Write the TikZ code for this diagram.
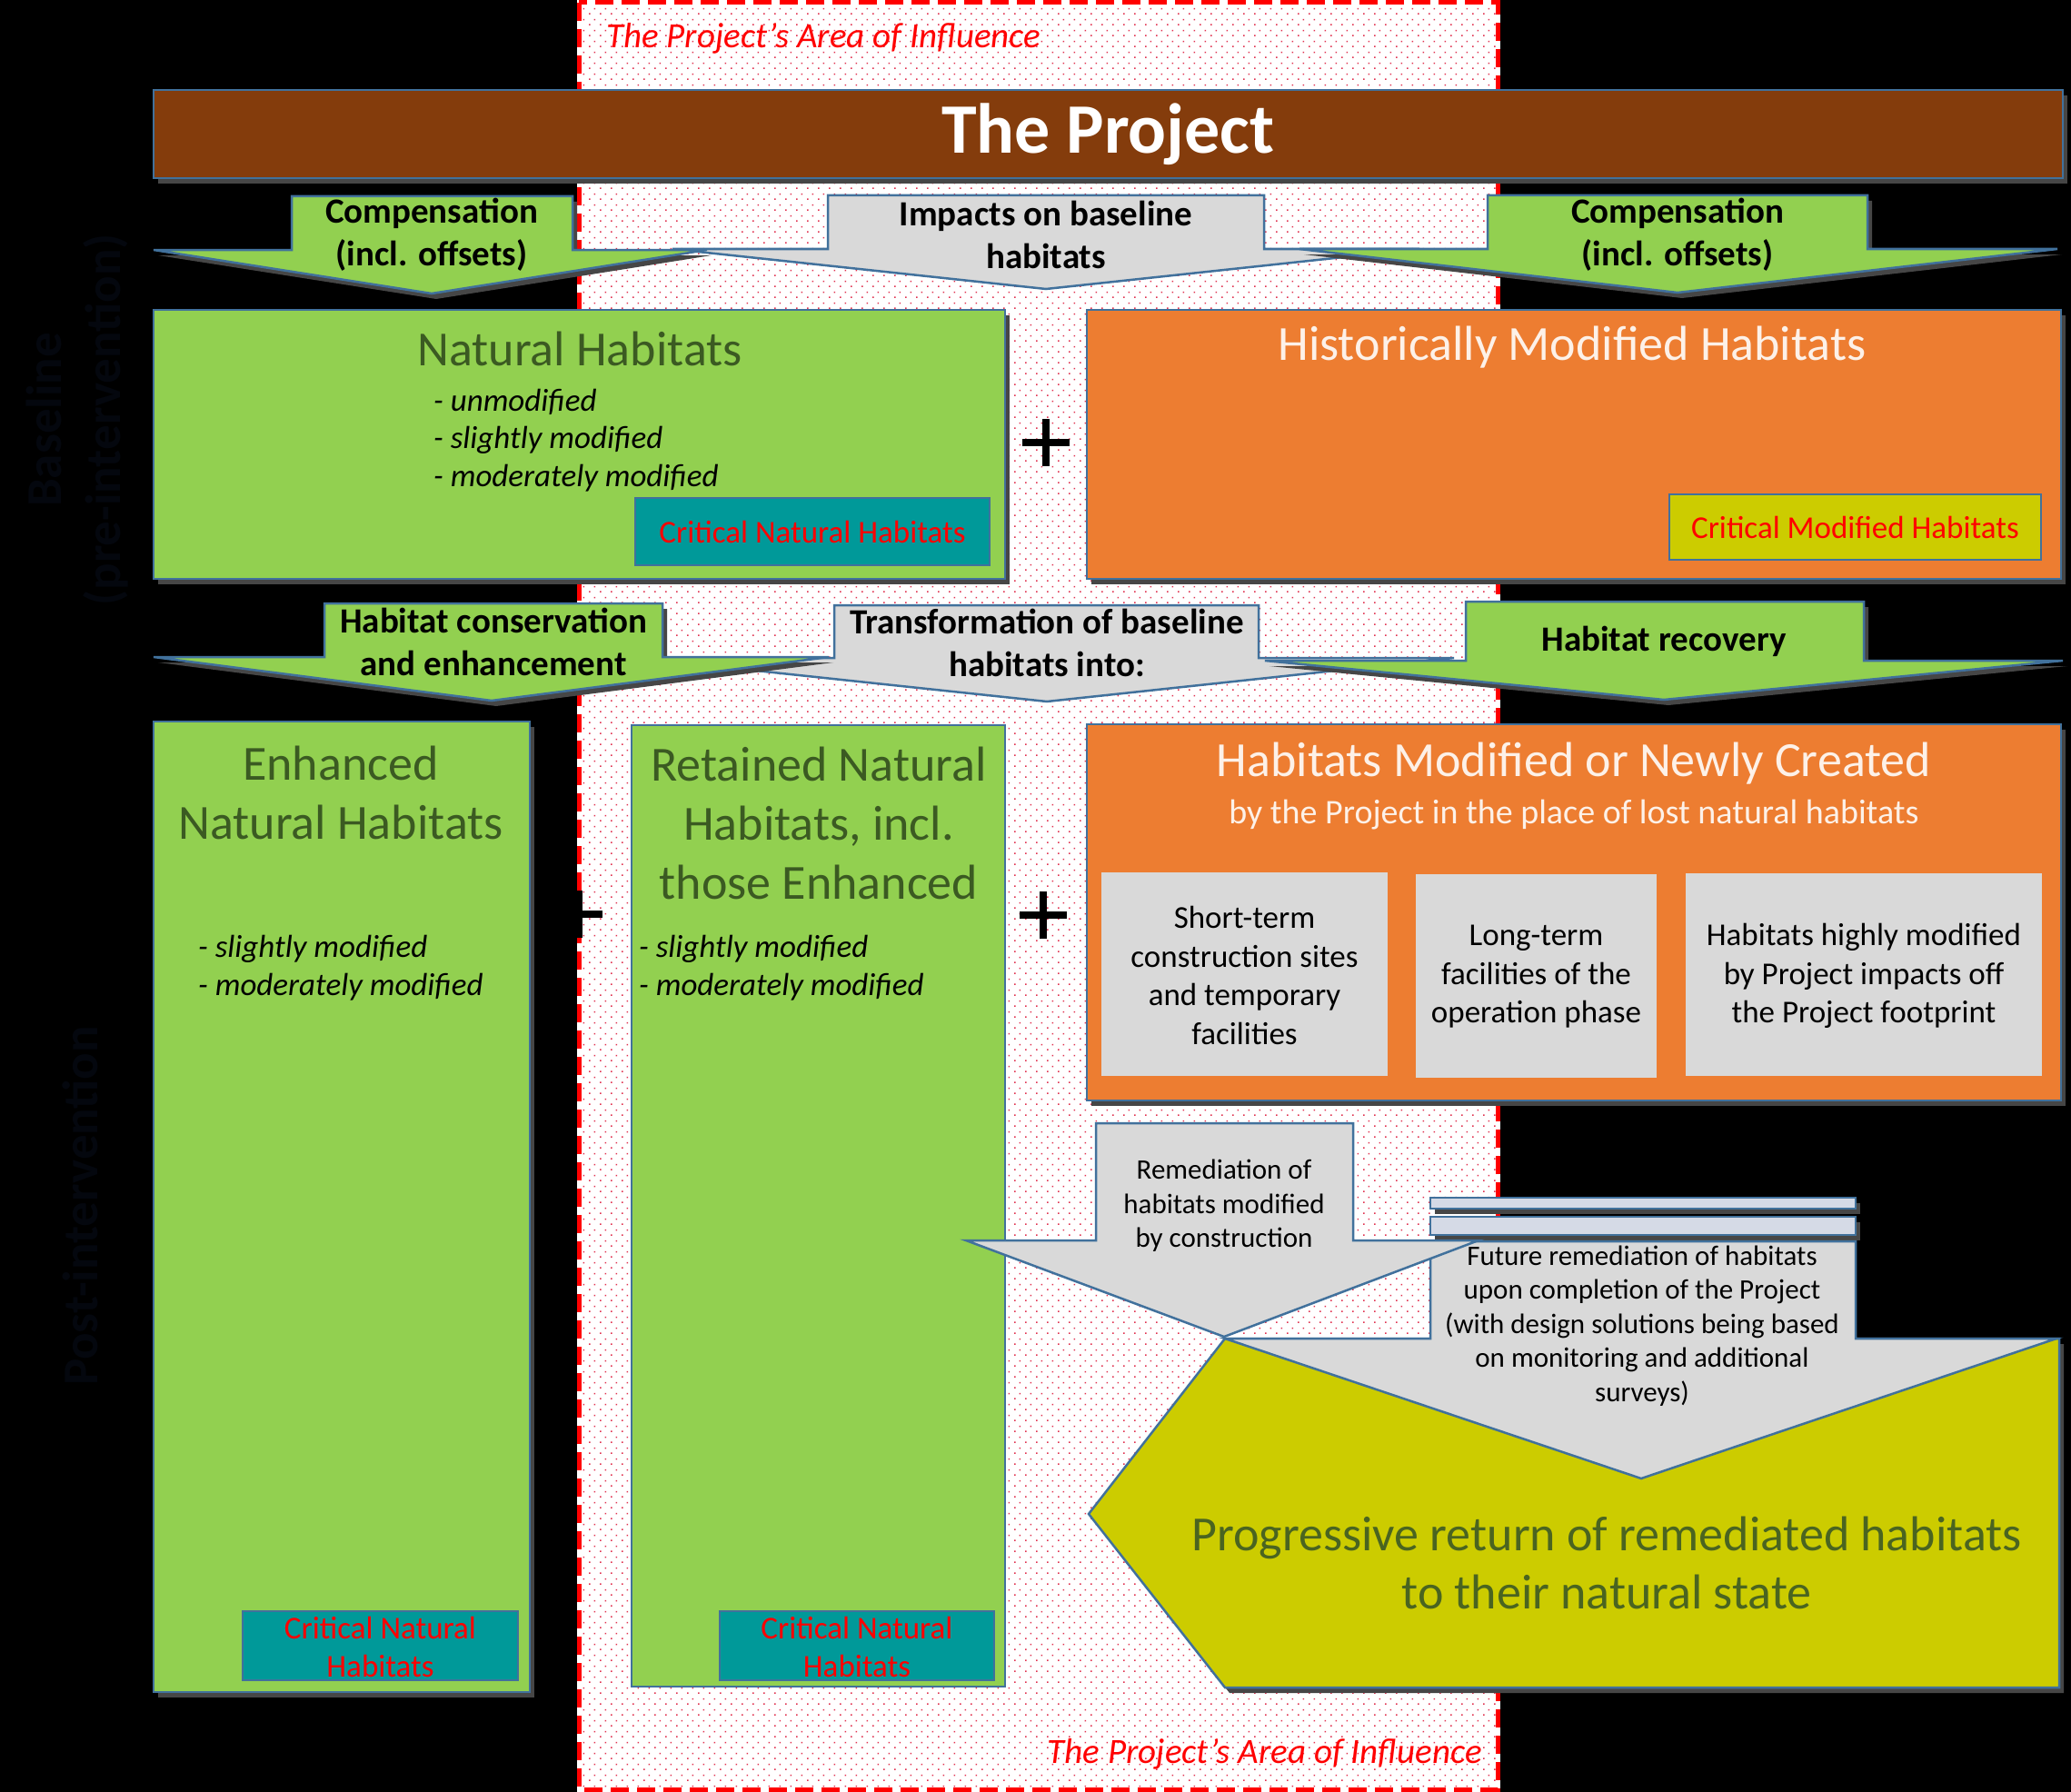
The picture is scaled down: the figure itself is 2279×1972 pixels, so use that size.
\documentclass[tikz,border=0pt]{standalone}
\usepackage{fontspec}
\setmainfont{Carlito}
\usetikzlibrary{patterns.meta,shadows}

\definecolor{cgreen}{HTML}{92D050}
\definecolor{corange}{HTML}{ED7D31}
\definecolor{cbrown}{HTML}{843C0C}
\definecolor{cteal}{HTML}{009999}
\definecolor{colive}{HTML}{CCCC00}
\definecolor{cgray}{HTML}{D9D9D9}
\definecolor{cbord}{HTML}{41719C}
\definecolor{cdkgreen}{HTML}{3B5A22}
\definecolor{cdkolive}{HTML}{4A6420}
\definecolor{ccream}{HTML}{FDF1E8}
\definecolor{cbar}{HTML}{D5DAE6}
\definecolor{cghost}{HTML}{04070E}
\definecolor{cdot}{RGB}{225,50,80}

\newcommand\myfs[2]{\fontsize{#1}{#2}\selectfont}

\tikzdeclarepattern{
  name=reddots,
  type=uncolored,
  bounding box={(0pt,0pt) and (12pt,12pt)},
  tile size={(12pt,12pt)},
  code={\fill (0pt,0pt) rectangle (1.7pt,1.7pt); \fill (6pt,6pt) rectangle (7.7pt,7.7pt);}
}

\tikzset{
  bx/.style={draw=cbord, line width=2.5pt},
  thinbx/.style={draw=cbord, line width=2pt},
  shad/.style={general shadow={fill=gray!55!black, shadow xshift=5pt, shadow yshift=-6pt}},
  ttl/.style={text=cdkgreen, font=\myfs{54}{65}, align=center, inner sep=0pt},
  lst/.style={font=\itshape\myfs{35}{42}, align=left, anchor=west, inner sep=0pt},
  arw/.style={font=\bfseries\myfs{39}{47}, align=center, inner sep=0pt},
  crit/.style={text=red, font=\myfs{35}{42}, align=center, inner sep=0pt},
  gtxt/.style={font=\myfs{35}{42.5}, align=center, inner sep=0pt},
  stxt/.style={font=\myfs{31}{37.5}, align=center, inner sep=0pt},
  ghost/.style={text=cghost, font=\bfseries\myfs{55}{65}, align=center, inner sep=0pt},
  zonetxt/.style={text=red, font=\itshape\myfs{39}{46}, inner sep=0pt},
  plusline/.style={line width=8pt, black}
}

\begin{document}
\begin{tikzpicture}[x=1pt,y=-1pt]
\path[use as bounding box, fill=black] (0,0) rectangle (2279,1972);

% left side labels
\node[ghost, rotate=90] (lblbase) at (85,462) {Baseline\\(pre-intervention)};
\node[ghost, rotate=90] (lblpost) at (88,1327) {Post-intervention};

% area of influence
\path[fill=white] (635,3) rectangle (1650,1969);
\path[pattern=reddots, pattern color=cdot] (635,3) rectangle (1650,1969);
\draw[white, line width=5pt] (637,3) rectangle (1648,1969);
\draw[red, line width=5pt, dash pattern=on 20pt off 9pt] (637,3) rectangle (1648,1969);
\node[zonetxt, anchor=west] (zonetop) at (667,42) {The Project’s Area of Influence};
\node[zonetxt, anchor=east] (zonebot) at (1631,1930) {The Project’s Area of Influence};

% project bar
\node[bx, fill=cbrown, shad, minimum width=2101pt, minimum height=97pt, inner sep=0pt,
      text=white, font=\bfseries\myfs{78}{90}] (proj) at (1219.5,147.5) {The Project};

% row 1 arrows
\path[bx, fill=cgray] (911,215) -- (1391,215) -- (1391,274) -- (1562,274) -- (1151,318) -- (740,274) -- (911,274) -- cycle;
\path[bx, fill=cgreen, shad] (321,216) -- (630,216) -- (630,275) -- (778,275) -- (475,323) -- (169,275) -- (321,275) -- cycle;
\path[bx, fill=cgreen, shad] (1637,215) -- (2055,215) -- (2055,274) -- (2264,274) -- (1846,322) -- (1430,274) -- (1637,274) -- cycle;
\node[arw] (a1l) at (475,258.5) {Compensation\\(incl. offsets)};
\node[arw] (a1c) at (1151,258.5) {Impacts on baseline\\habitats};
\node[arw] (a1r) at (1846,258.5) {Compensation\\(incl. offsets)};

% baseline boxes
\path[bx, fill=cgreen, shad] (169,341) rectangle (1106,637);
\node[ttl] (nh) at (638,384) {Natural Habitats};
\node[lst] (nh1) at (477,442) {- unmodified};
\node[lst] (nh2) at (477,484) {- slightly modified};
\node[lst] (nh3) at (477,526) {- moderately modified};
\path[thinbx, fill=cteal] (699,548) rectangle (1089,622);
\node[crit] (cnh) at (894,585) {Critical Natural Habitats};

\draw[plusline] (1125,487) -- (1177,487) (1151,461) -- (1151,513);

\path[bx, fill=corange, shad] (1196,341) rectangle (2268,637);
\node[ttl, text=ccream] (hmh) at (1730,382) {Historically Modified Habitats};
\path[thinbx, fill=colive] (1837,544) rectangle (2246,616);
\node[crit] (cmh) at (2041.5,580) {Critical Modified Habitats};

% row 2 arrows
\path[bx, fill=cgray] (918,666) -- (1385,666) -- (1385,724) -- (1600,724) -- (1152,772) -- (700,724) -- (918,724) -- cycle;
\path[bx, fill=cgreen, shad] (357,664) -- (729,664) -- (729,723) -- (912,723) -- (541,771) -- (169,723) -- (357,723) -- cycle;
\path[bx, fill=cgreen, shad] (1613,662) -- (2051,662) -- (2051,727) -- (2270,727) -- (1831,770) -- (1392,727) -- (1613,727) -- cycle;
\node[arw] (a2l) at (543,706.5) {Habitat conservation\\and enhancement};
\node[arw] (a2c) at (1152,707) {Transformation of baseline\\habitats into:};
\node[arw] (a2r) at (1831,706) {Habitat recovery};

% enhanced natural habitats
\path[bx, fill=cgreen, shad] (169,794) rectangle (583,1862);
\node[ttl] (enh) at (375,872.5) {Enhanced\\Natural Habitats};
\node[lst] (enh1) at (218,1044) {- slightly modified};
\node[lst] (enh2) at (218,1086) {- moderately modified};
\path[thinbx, fill=cteal] (267,1773) rectangle (570,1849);
\node[crit] (cenh) at (418.5,1812) {Critical Natural\\Habitats};

\draw[plusline] (611,1006) -- (663,1006) (637,980) -- (637,1032);

% retained natural habitats
\path[bx, fill=cgreen] (695,798) rectangle (1106,1856);
\node[ttl] (ret) at (901,905.5) {Retained Natural\\Habitats, incl.\\those Enhanced};
\node[lst] (ret1) at (703,1044) {- slightly modified};
\node[lst] (ret2) at (703,1086) {- moderately modified};
\path[thinbx, fill=cteal] (792,1773) rectangle (1094,1849);
\node[crit] (cret) at (943,1812) {Critical Natural\\Habitats};

\draw[plusline] (1122,1007) -- (1174,1007) (1148,981) -- (1148,1033);

% habitats modified or newly created
\path[bx, fill=corange, shad] (1196,797) rectangle (2268,1211);
\node[ttl, text=ccream] (hmn) at (1732,840) {Habitats Modified or Newly Created};
\node[text=ccream, font=\myfs{38}{46}, inner sep=0pt] (hmnsub) at (1732,897) {by the Project in the place of lost natural habitats};
\path[fill=cgray] (1212,960) rectangle (1527,1184);
\path[fill=cgray] (1558,962) rectangle (1823,1186);
\path[fill=cgray] (1855,961) rectangle (2247,1184);
\node[gtxt] (g1) at (1369.5,1073.5) {Short-term\\construction sites\\and temporary\\facilities};
\node[gtxt] (g2) at (1690.5,1075) {Long-term\\facilities of the\\operation phase};
\node[gtxt] (g3) at (2051,1074) {Habitats highly modified\\by Project impacts off\\the Project footprint};

% progressive return
\path[bx, fill=colive, shad] (1198,1666) -- (1348,1473) -- (2266,1473) -- (2266,1857) -- (1348,1857) -- cycle;
\node[text=cdkolive, font=\myfs{54}{64}, align=center, inner sep=0pt] (prog) at (1768,1720) {Progressive return of remediated habitats\\to their natural state};

% future remediation arrow
\path[thinbx, fill=cbar, shad] (1574,1318) rectangle (2042,1330);
\path[thinbx, fill=cbar, shad] (1574,1339) rectangle (2042,1359);
\path[bx, fill=cgray] (1574,1366) -- (2042,1366) -- (2042,1473) -- (2263,1473) -- (1806,1627) -- (1348,1473) -- (1574,1473) -- cycle;

% remediation arrow
\path[bx, fill=cgray] (1206,1236) -- (1489,1236) -- (1489,1365) -- (1627,1365) -- (1347,1471) -- (1063,1365) -- (1206,1365) -- cycle;
\node[stxt] (rem) at (1347,1327) {Remediation of\\habitats modified\\by construction};
\node[stxt] (fut) at (1807,1459) {Future remediation of habitats\\upon completion of the Project\\(with design solutions being based\\on monitoring and additional\\surveys)};
\end{tikzpicture}
\end{document}
